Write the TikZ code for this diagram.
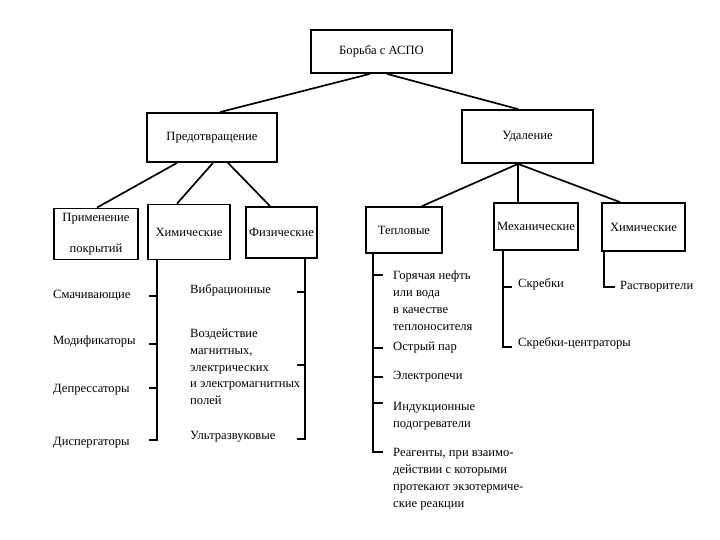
\documentclass[tikz,border=0pt]{standalone}
\usepackage{fontspec}
\setmainfont{Liberation Serif}
\tikzset{
	box/.style={draw, line width=1.8pt, inner sep=0pt, align=center},
	link/.style={line width=1.7pt},
	item/.style={inner sep=0pt, anchor=west},
	items/.style={inner sep=0pt, anchor=north west, align=left},
}
\begin{document}
\begin{tikzpicture}[x=1pt, y=-1pt, font=\fontsize{12.6}{16.7}\selectfont]
	\useasboundingbox[fill=white] (0,0) rectangle (720,540);
	% boxes
	\node[box, minimum width=141pt, minimum height=43pt] (aspo) at (381.5,51.5) {Борьба с АСПО};
	\node[box, minimum width=130pt, minimum height=49pt] (prev) at (212,137.5) {Предотвращение};
	\node[box, minimum width=131pt, minimum height=53pt] (udal) at (527.5,136.5) {Удаление};
	\node[box, minimum width=84pt, minimum height=51pt] (prim) at (96,234) {Применение\\[14pt]покрытий};
	\node[box, minimum width=82pt, minimum height=55pt] (chem) at (189,232) {Химические};
	\node[box, minimum width=71pt, minimum height=51pt] (phys) at (281.5,232.5) {Физические};
	\node[box, minimum width=76pt, minimum height=46pt] (tepl) at (404,230) {Тепловые};
	\node[box, minimum width=84pt, minimum height=47pt] (mech) at (536,226.5) {Механические};
	\node[box, minimum width=83pt, minimum height=48pt] (chemr) at (643.5,227) {Химические};
	% tree
	\draw[link] ([xshift=-11.5pt]aspo.south) -- ([xshift=8pt]prev.north);
	\draw[link] ([xshift=5.5pt]aspo.south) -- ([xshift=-9.5pt]udal.north);
	\draw[link] ([xshift=-35pt]prev.south) -- ([xshift=1pt]prim.north);
	\draw[link] ([xshift=1pt]prev.south) -- ([xshift=-12pt]chem.north);
	\draw[link] ([xshift=16pt]prev.south) -- ([xshift=-11.5pt]phys.north);
	\draw[link] ([xshift=-9.5pt]udal.south) -- ([xshift=18pt]tepl.north);
	\draw[link] ([xshift=-9.5pt]udal.south) -- ([xshift=-18pt]mech.north);
	\draw[link] ([xshift=-9.5pt]udal.south) -- ([xshift=-23.5pt]chemr.north);
	% chemical
	\node[item] (sma) at (53,296) {Смачивающие};
	\node[item] (mod) at (53,341) {Модификаторы};
	\node[item] (dep) at (53,390) {Депрессаторы};
	\node[item] (dis) at (53,443) {Диспергаторы};
	\coordinate (chem-end) at (157,440);
	\draw[link] ([xshift=-32pt]chem.south) -- (chem-end) -- +(-8,0);
	\foreach \y in {296,344,388}
		\draw[link] (157,\y) -- +(-8,0);
	% physical
	\node[item] (vib) at (190,290) {Вибрационные};
	\node[items] (mag) at (190,329) {Воздействие\\магнитных,\\электрических\\и электромагнитных\\полей};
	\node[item] (uzv) at (190,437) {Ультразвуковые};
	\coordinate (phys-end) at (305,439);
	\draw[link] ([xshift=23.5pt]phys.south) -- (phys-end) -- +(-8,0);
	\foreach \y in {292,365}
		\draw[link] (305,\y) -- +(-8,0);
	% thermal
	\node[items] (gor) at (393,271) {Горячая нефть\\или вода\\в качестве\\теплоносителя};
	\node[item] (par) at (393,348) {Острый пар};
	\node[item] (pech) at (393,377) {Электропечи};
	\node[items] (ind) at (393,402.5) {Индукционные\\подогреватели};
	\node[items] (reag) at (393,448.5) {Реагенты, при взаимо-\\действии с которыми\\протекают экзотерми\-че-\\ские реакции};
	\coordinate (tepl-end) at (373,452);
	\draw[link] ([xshift=-31pt]tepl.south) -- (tepl-end) -- +(10,0);
	\foreach \y in {275,348,377,403}
		\draw[link] (373,\y) -- +(10,0);
	% mechanical
	\node[item] (skr) at (518,284) {Скребки};
	\node[item] (cen) at (518,343) {Скребки-центраторы};
	\coordinate (mech-end) at (503,347);
	\draw[link] ([xshift=-33pt]mech.south) -- (mech-end) -- +(9,0);
	\draw[link] (503,287) -- +(9,0);
	% solvents
	\node[item] (rast) at (620,287) {Растворители};
	\draw[link] ([xshift=-39.5pt]chemr.south) |- ([xshift=-5pt]rast.west);
\end{tikzpicture}
\end{document}
